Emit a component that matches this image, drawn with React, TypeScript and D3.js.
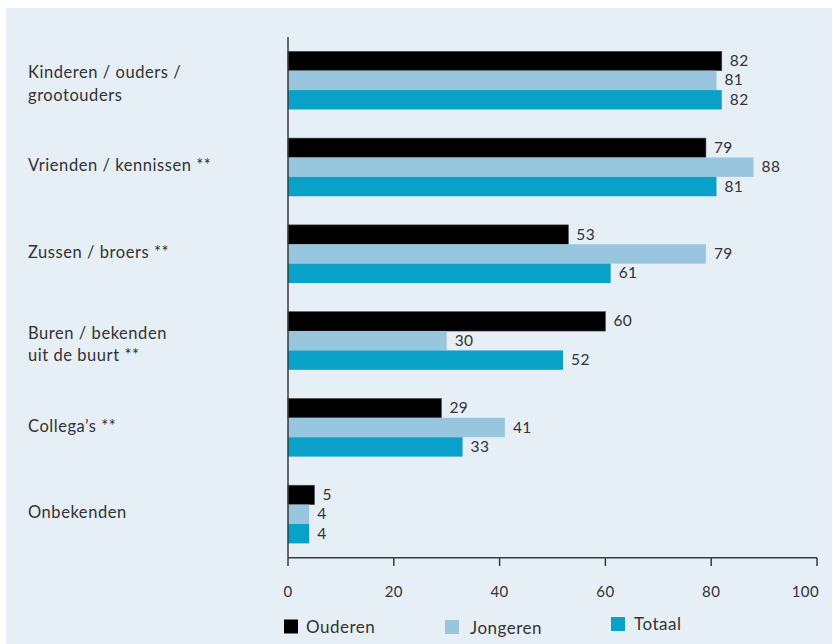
import React from "react";
import * as d3 from "d3";

const categories: string[][] = [
  ["Kinderen / ouders /", "grootouders"],
  ["Vrienden / kennissen **"],
  ["Zussen / broers **"],
  ["Buren / bekenden", "uit de buurt **"],
  ["Collega’s **"],
  ["Onbekenden"],
];
const seriesNames = ["Ouderen", "Jongeren", "Totaal"];
const ouderen = [82, 79, 53, 60, 29, 5];
const jongeren = [81, 88, 79, 30, 41, 4];
const totaal = [82, 81, 61, 52, 33, 4];
const xTicks = [0, 20, 40, 60, 80, 100];

const colors = ["#000000", "#97c6de", "#0aa1c8"];
const FONT = "Lato, 'Open Sans', sans-serif";
const TEXT = "#333333";

export default function App() {
  const W = 833;
  const H = 644;
  const x = d3.scaleLinear().domain([0, 100]).range([288, 817]);
  const idx = categories.map((_, i) => String(i));
  const y = d3
    .scaleBand()
    .domain(idx)
    .range([37, 557.7])
    .paddingInner(0.33)
    .paddingOuter(0.165);
  const inner = d3
    .scaleBand()
    .domain(seriesNames)
    .range([0, y.bandwidth()]);
  const series = [ouderen, jongeren, totaal];

  return (
    <svg
      width={W}
      height={H}
      style={{ position: "absolute", left: 0, top: 0 }}
      fontFamily={FONT}
    >
      <rect x={6} y={8} width={826} height={636} fill="#e6eef6" />
      {categories.map((lines, i) => {
        const cy = (y(String(i)) as number) + y.bandwidth() / 2;
        const base = lines.length > 1 ? cy - 2 : cy + 4;
        return (
          <text key={i} x={28} y={base} fontSize={16.5} letterSpacing={0.55} fill={TEXT}>
            {lines.map((l, j) => (
              <tspan key={j} x={28} y={base + j * 22.5}>
                {l}
              </tspan>
            ))}
          </text>
        );
      })}
      {series.map((vals, s) =>
        vals.map((v, i) => {
          const by = (y(String(i)) as number) + (inner(seriesNames[s]) as number);
          const bh = inner.bandwidth();
          return (
            <g key={`${s}-${i}`}>
              <rect
                x={x(0)}
                y={by}
                width={x(v) - x(0)}
                height={bh}
                fill={colors[s]}
                stroke={s === 0 ? "#4a4a4a" : "none"}
                strokeWidth={s === 0 ? 0.6 : 0}
              />
              <text
                x={x(v) + 8}
                y={by + bh / 2 + 5}
                fontSize={15.5}
                letterSpacing={0.4}
                fill={TEXT}
              >
                {v}
              </text>
            </g>
          );
        })
      )}
      <line x1={288} x2={288} y1={37} y2={557.7} stroke="#3a3a3a" strokeWidth={1.5} />
      <line x1={288} x2={817} y1={557.7} y2={557.7} stroke="#3a3a3a" strokeWidth={1.5} />
      {xTicks.map((t, i) => (
        <g key={t}>
          <line x1={x(t)} x2={x(t)} y1={557.7} y2={566} stroke="#3a3a3a" strokeWidth={1.5} />
          <text
            x={i === xTicks.length - 1 ? x(t) + 2 : x(t)}
            y={596.5}
            fontSize={15}
            letterSpacing={0.4}
            fill={TEXT}
            textAnchor={i === xTicks.length - 1 ? "end" : "middle"}
          >
            {t}
          </text>
        </g>
      ))}
      {[
        { sx: 284, sy: 619.5, tx: 306, ty: 632.5 },
        { sx: 445, sy: 620, tx: 470, ty: 633.5 },
        { sx: 611, sy: 617, tx: 634, ty: 630 },
      ].map((p, s) => (
        <g key={seriesNames[s]}>
          <rect x={p.sx} y={p.sy} width={14} height={14} fill={colors[s]} />
          <text x={p.tx} y={p.ty} fontSize={17} letterSpacing={0.5} fill={TEXT}>
            {seriesNames[s]}
          </text>
        </g>
      ))}
    </svg>
  );
}
